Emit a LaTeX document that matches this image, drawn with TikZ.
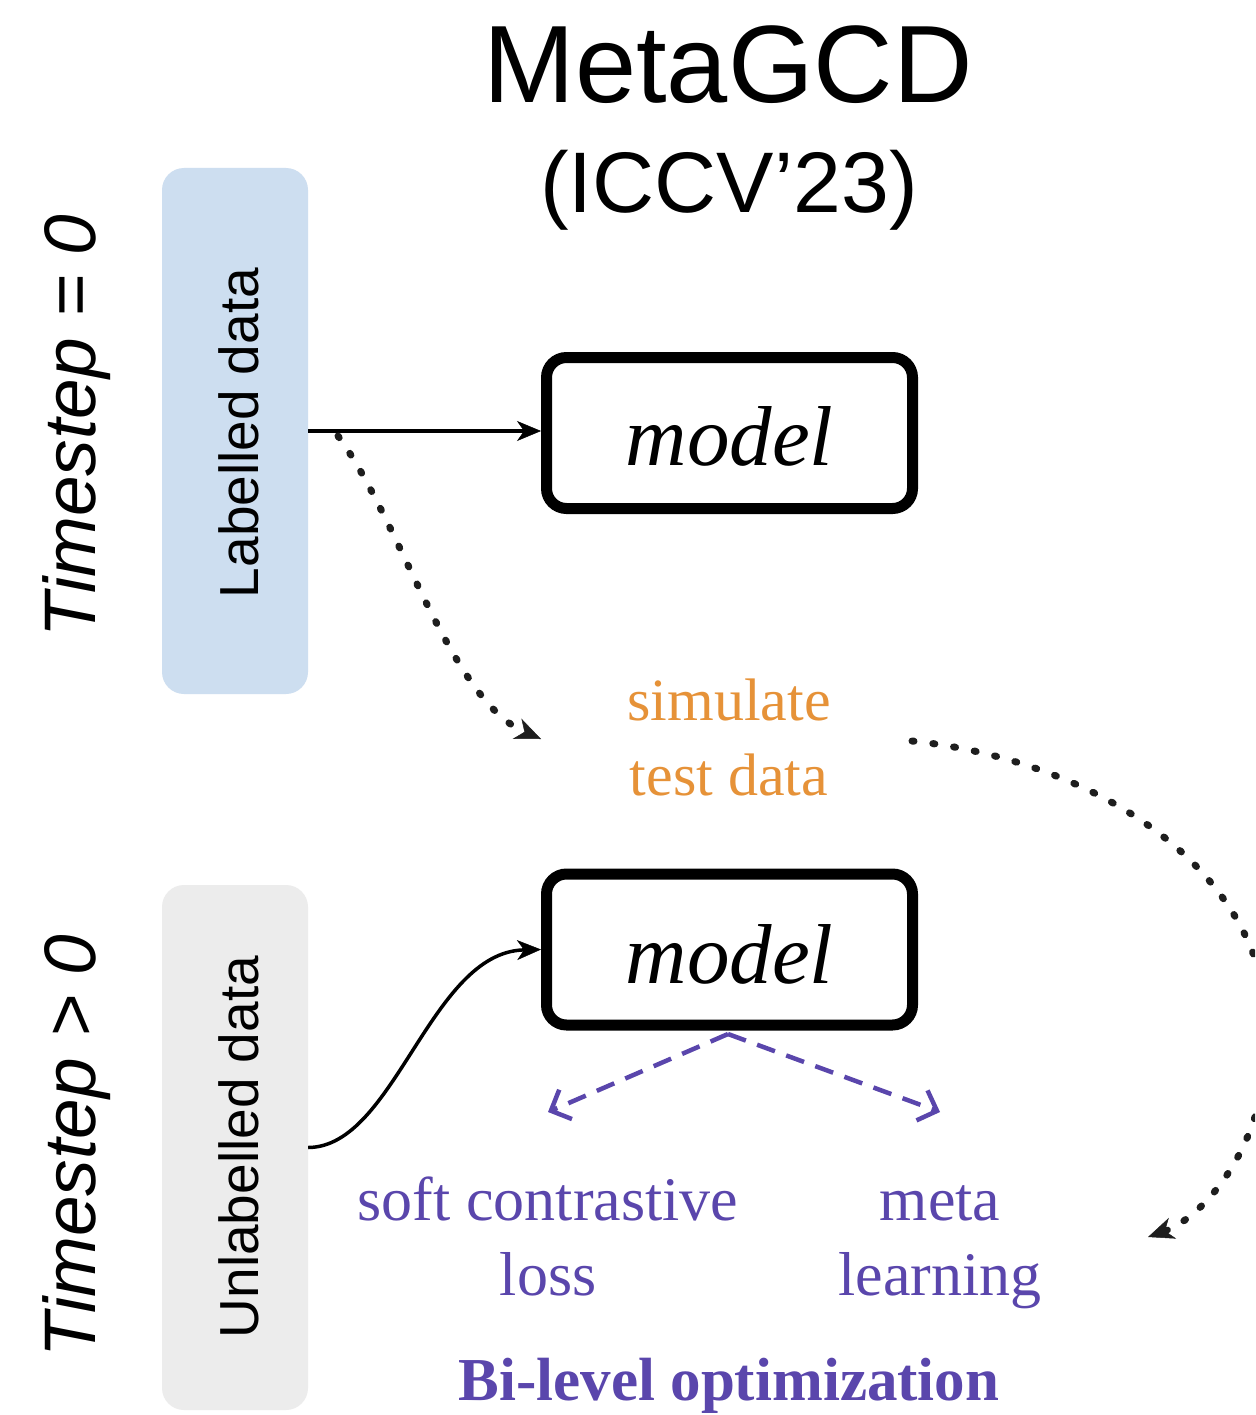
\documentclass[tikz,border=0pt]{standalone}
\usepackage{fontspec}
\setmainfont{Liberation Serif}
\setsansfont{Liberation Sans}
\usetikzlibrary{arrows.meta}

\definecolor{labblue}{RGB}{205,222,240}
\definecolor{unlgray}{RGB}{236,236,236}
\definecolor{simorange}{RGB}{230,146,56}
\definecolor{optpurple}{RGB}{90,70,172}
\definecolor{dotgray}{RGB}{30,30,30}

\newcommand{\fsz}[1]{\fontsize{#1}{#1}\selectfont}

\begin{document}
\begin{tikzpicture}[x=1pt,y=-1pt,
  databox/.style={rounded corners=22pt, minimum width=146pt, inner sep=0pt},
  modelbox/.style={draw=black, line width=11pt, rounded corners=20pt,
    minimum width=366pt, minimum height=151pt, inner sep=0pt},
  txt/.style={inner sep=0pt, anchor=base},
  sidelabel/.style={txt, rotate=90, font=\sffamily\fsz{55}},
  steplabel/.style={txt, rotate=90, font=\sffamily\itshape\fsz{73}},
  modeltxt/.style={txt, font=\itshape\fsz{85}},
  simtxt/.style={txt, text=simorange, font=\fsz{60}},
  opttxt/.style={txt, text=optpurple, font=\fsz{62}},
  flow/.style={line width=3.5pt, -{Stealth[length=24pt,width=20pt,inset=7pt,line width=0.5pt]}},
  dotflow/.style={dotgray, line width=7pt, line cap=round, dash pattern=on 2pt off 19pt,
    -{Stealth[length=26pt,width=22pt,inset=8pt,line width=0.5pt]}},
  optflow/.style={optpurple, line width=4.5pt, dash pattern=on 19pt off 12pt,
    -{Straight Barb[length=16pt,width=32pt,line width=4.5pt]}}
]
\useasboundingbox (0,0) rectangle (1255,1415);
\fill[white] (0,0) rectangle (1255,1415);

% title
\node[txt, font=\sffamily\fsz{110}] (title) at (728,103) {MetaGCD};
\node[txt, font=\sffamily\fsz{86}] (venue) at (729,213) {(ICCV’23)};

% timestep labels
\node[steplabel] (ts0) at (95,426) {Timestep = 0};
\node[steplabel] (ts1) at (95,1146) {Timestep > 0};

% data columns
\node[databox, fill=labblue, minimum height=526pt] (lab) at (235,431) {};
\node[sidelabel] (labtxt) at (258,433) {Labelled data};
\node[databox, fill=unlgray, minimum height=525pt] (unl) at (235,1147.5) {};
\node[sidelabel] (unltxt) at (258,1147) {Unlabelled data};

% models
\node[modelbox] (m1) at (729.5,433) {};
\node[modeltxt] (m1txt) at (729.5,465) {model};
\node[modelbox] (m2) at (729.5,949.5) {};
\node[modeltxt] (m2txt) at (729.5,983) {model};

% simulated test data
\node[simtxt] (sim1) at (729,720) {simulate};
\node[simtxt] (sim2) at (729,795) {test data};

% optimisation terms
\node[opttxt] (soft1) at (548,1220) {soft contrastive};
\node[opttxt] (soft2) at (548,1295) {loss};
\node[opttxt] (meta1) at (940,1220) {meta};
\node[opttxt] (meta2) at (940,1295) {learning};
\node[txt, text=optpurple, font=\bfseries\fsz{61}] (bilevel) at (729,1400) {Bi-level optimization};

% connector ends
\coordinate (dstart) at (338,436);
\coordinate (dend) at (541,739);
\coordinate (rstart) at (912,741);
\coordinate (rmid) at (1268,1034);
\coordinate (rend) at (1148,1237);
\coordinate (apex) at (728,1034);
\coordinate (lossend) at (548,1112);
\coordinate (metaend) at (940,1112);

% connectors
\draw[flow] (lab.east) -- (lab.east -| m1.west);
\draw[flow] (unl.east) .. controls (395,1147) and (430,952) .. (m2.west);
\draw[dotflow] (dstart) .. controls (400,520) and (450,700) .. (dend);
\begin{scope}
  \clip (0,0) rectangle (1255,1415);
  \draw[dotflow] (rstart) .. controls (1102,761) and (1268,874) .. (rmid)
    .. controls (1268,1144) and (1204,1217) .. (rend);
\end{scope}
\draw[optflow] (apex) -- (lossend);
\draw[optflow] (apex) -- (metaend);
\end{tikzpicture}
\end{document}
